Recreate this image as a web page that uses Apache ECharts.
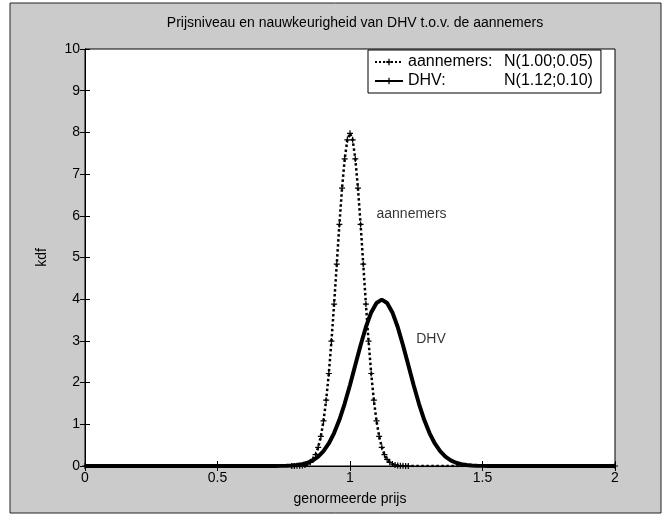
<!DOCTYPE html>
<html>
<head>
<meta charset="utf-8">
<script src="https://cdn.jsdelivr.net/npm/echarts@6/dist/echarts.min.js"></script>
<style>
  html, body { margin: 0; padding: 0; background: #fff; }
  #chart { width: 667px; height: 520px; }
</style>
</head>
<body>
<div id="chart"></div>
<script>
// aannemers: N(1.00;0.05)
var aanX = [0, 0.78, 0.79, 0.80, 0.81, 0.82, 0.83, 0.84, 0.85, 0.86, 0.87, 0.88, 0.89, 0.90,
    0.91, 0.92, 0.93, 0.94, 0.95, 0.96, 0.97, 0.98, 0.99, 1.00, 1.01, 1.02, 1.03, 1.04,
    1.05, 1.06, 1.07, 1.08, 1.09, 1.10, 1.11, 1.12, 1.13, 1.14, 1.15, 1.16, 1.17, 1.18,
    1.19, 1.20, 1.21, 1.22, 2];
var aanY = [0, 0, 0, 0.003, 0.006, 0.012, 0.025, 0.048, 0.089, 0.158, 0.272, 0.448, 0.710, 1.080,
    1.579, 2.218, 2.995, 3.884, 4.839, 5.794, 6.665, 7.365, 7.821, 7.979, 7.821, 7.365, 6.665, 5.794,
    4.839, 3.884, 2.995, 2.218, 1.579, 1.080, 0.710, 0.448, 0.272, 0.158, 0.089, 0.048, 0.025, 0.012,
    0.006, 0.003, 0, 0, 0];

// DHV: N(1.12;0.10)
var dhvX = [0, 0.70, 0.72, 0.74, 0.76, 0.78, 0.80, 0.82, 0.84, 0.86, 0.88, 0.90, 0.92, 0.94,
    0.96, 0.98, 1.00, 1.02, 1.04, 1.06, 1.08, 1.10, 1.12, 1.14, 1.16, 1.18, 1.20, 1.22,
    1.24, 1.26, 1.28, 1.30, 1.32, 1.34, 1.36, 1.38, 1.40, 1.42, 1.44, 1.46, 1.48, 1.50,
    1.52, 1.54, 2];
var dhvY = [0, 0, 0.001, 0.003, 0.006, 0.012, 0.024, 0.044, 0.079, 0.136, 0.224, 0.355, 0.540, 0.790,
    1.109, 1.497, 1.942, 2.420, 2.897, 3.332, 3.683, 3.910, 3.989, 3.910, 3.683, 3.332, 2.897, 2.420,
    1.942, 1.497, 1.109, 0.790, 0.540, 0.355, 0.224, 0.136, 0.079, 0.044, 0.024, 0.012, 0.006, 0.003,
    0.001, 0, 0];

// text labels placed inside the plot
var noteNames = ['aannemers', 'DHV'];
var noteX = [1.10, 1.25];
var noteY = [6.05, 3.05];

var xTicks = [0, 0.5, 1, 1.5, 2];
var yTicks = [0, 1, 2, 3, 4, 5, 6, 7, 8, 9, 10];

var font = 'Arial, "Liberation Sans", Helvetica, sans-serif';
var plus = 'path://M4,0H6V4H10V6H6V10H4V6H0V4H4Z';

function pairs(xs, ys) {
    return xs.map(function (x, i) { return [x, ys[i]]; });
}

var myChart = echarts.init(document.getElementById('chart'));

var axisCommon = {
    type: 'value',
    axisLine: { show: true, lineStyle: { color: '#000', width: 1 } },
    axisTick: { show: true, inside: true, length: 5, lineStyle: { color: '#000' } },
    splitLine: { show: false },
    axisLabel: { color: '#000', fontFamily: font, fontSize: 14 }
};

var option = {
    animation: false,
    textStyle: { fontFamily: font },
    graphic: [{
        type: 'rect',
        z: -10,
        shape: { x: 10, y: 3, width: 651, height: 510 },
        style: { fill: '#cbcbcb', stroke: '#222', lineWidth: 1 }
    }],
    title: {
        text: 'Prijsniveau en nauwkeurigheid van DHV t.o.v. de aannemers',
        left: 350,
        textAlign: 'center',
        top: 11,
        textStyle: { color: '#000', fontSize: 14, fontWeight: 'normal', fontFamily: font }
    },
    legend: {
        orient: 'vertical',
        left: 368,
        top: 50,
        padding: [4, 8, 4, 6],
        itemGap: 3,
        itemWidth: 28,
        itemHeight: 8,
        backgroundColor: '#fff',
        borderColor: '#000',
        borderWidth: 1,
        borderRadius: 0,
        data: ['aannemers', 'DHV'],
        formatter: function (name) {
            return name === 'aannemers'
                ? '{a|aannemers:}{b|N(1.00;0.05)}'
                : '{a|DHV:}{b|N(1.12;0.10)}';
        },
        textStyle: {
            color: '#000',
            fontSize: 16,
            fontFamily: font,
            rich: {
                a: { width: 96, fontSize: 16, fontFamily: font, color: '#000' },
                b: { fontSize: 16, fontFamily: font, color: '#000' }
            }
        }
    },
    grid: {
        left: 85,
        right: 52,
        top: 49,
        bottom: 54,
        show: true,
        backgroundColor: '#fff',
        borderColor: '#000',
        borderWidth: 1
    },
    xAxis: [
        Object.assign({}, axisCommon, {
            min: xTicks[0], max: xTicks[xTicks.length - 1], interval: 0.5,
            position: 'bottom',
            name: 'genormeerde prijs',
            nameLocation: 'middle',
            nameGap: 26,
            nameTextStyle: { color: '#000', fontSize: 14, fontFamily: font },
            axisLabel: { color: '#000', fontFamily: font, fontSize: 14, margin: 5 }
        }),
        Object.assign({}, axisCommon, {
            min: xTicks[0], max: xTicks[xTicks.length - 1], interval: 0.5,
            position: 'top',
            axisLabel: { show: false }
        })
    ],
    yAxis: [
        Object.assign({}, axisCommon, {
            min: yTicks[0], max: yTicks[yTicks.length - 1], interval: 1,
            position: 'left',
            name: 'kdf',
            nameLocation: 'middle',
            nameGap: 36,
            nameTextStyle: { color: '#000', fontSize: 14, fontFamily: font },
            axisLabel: { color: '#000', fontFamily: font, fontSize: 14, margin: 5 }
        }),
        Object.assign({}, axisCommon, {
            min: yTicks[0], max: yTicks[yTicks.length - 1], interval: 1,
            position: 'right',
            axisLabel: { show: false }
        })
    ],
    series: [
        {
            name: 'aannemers',
            type: 'line',
            data: pairs(aanX, aanY),
            symbol: plus,
            symbolSize: 6,
            showSymbol: true,
            showAllSymbol: true,
            itemStyle: { color: '#000' },
            lineStyle: { color: '#000', width: 2.5, type: 'dotted' },
            z: 3
        },
        {
            name: 'DHV',
            type: 'line',
            data: pairs(dhvX, dhvY),
            symbol: plus,
            symbolSize: 6,
            showSymbol: false,
            itemStyle: { color: '#000' },
            lineStyle: { color: '#000', width: 4 },
            z: 4
        },
        {
            name: 'notes',
            type: 'scatter',
            symbolSize: 0,
            silent: true,
            data: pairs(noteX, noteY),
            label: {
                show: true,
                position: 'right',
                distance: 0,
                color: '#000',
                fontSize: 14,
                fontFamily: font,
                formatter: function (p) { return noteNames[p.dataIndex]; }
            },
            z: 5
        }
    ]
};

myChart.setOption(option);
</script>
</body>
</html>
